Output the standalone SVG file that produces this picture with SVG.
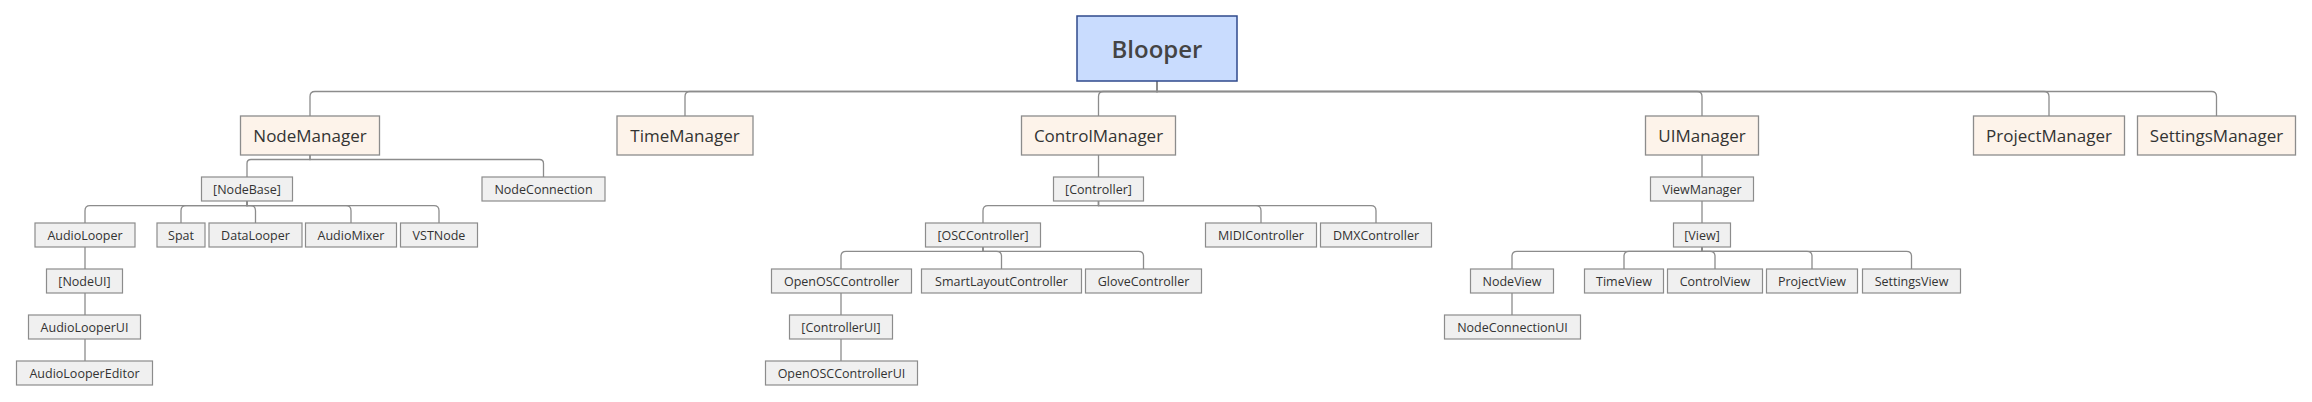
<svg xmlns="http://www.w3.org/2000/svg" width="2312" height="402" viewBox="0 0 2312 402">
<style>
.bg{fill:#ffffff}
.e{fill:none;stroke:#8c8c8c;stroke-width:1.3}
.root rect{fill:#c9dcfe;stroke:#2f4a8c;stroke-width:1.5}
.root text{font-family:"Open Sans","Liberation Sans",sans-serif;font-size:24px;font-weight:600;fill:#444;text-anchor:middle;dominant-baseline:central}
.mgr rect{fill:#fdf3ea;stroke:#8c8c8c;stroke-width:1.3}
.mgr text{font-family:"Open Sans","Liberation Sans",sans-serif;font-size:17px;fill:#333;text-anchor:middle;dominant-baseline:central}
.leaf rect{fill:#f0f0f0;stroke:#8c8c8c;stroke-width:1.2}
.leaf text{font-family:"Open Sans","Liberation Sans",sans-serif;font-size:12.5px;fill:#333;text-anchor:middle;dominant-baseline:central}
</style>
<rect class="bg" x="0" y="0" width="2312" height="402"/>
<g id="connectors">
<path class="e" d="M1157,81 V91.5 H315 Q310,91.5 310,96.5 V116"/>
<path class="e" d="M1157,81 V91.5 H690 Q685,91.5 685,96.5 V116"/>
<path class="e" d="M1157,81 V91.5 H1103.5 Q1098.5,91.5 1098.5,96.5 V116"/>
<path class="e" d="M1157,81 V91.5 H1697 Q1702,91.5 1702,96.5 V116"/>
<path class="e" d="M1157,81 V91.5 H2044 Q2049,91.5 2049,96.5 V116"/>
<path class="e" d="M1157,81 V91.5 H2211.5 Q2216.5,91.5 2216.5,96.5 V116"/>
<path class="e" d="M310,155 V159.5 H251 Q247,159.5 247,163.5 V177"/>
<path class="e" d="M310,155 V159.5 H539.5 Q543.5,159.5 543.5,163.5 V177"/>
<path class="e" d="M1098.5,155 V177"/>
<path class="e" d="M1702,155 V177"/>
<path class="e" d="M247,201 V205.7 H90 Q85,205.7 85,210.7 V223"/>
<path class="e" d="M247,201 V205.7 H186 Q181,205.7 181,210.7 V223"/>
<path class="e" d="M247,201 V205.7 H250.5 Q255.5,205.7 255.5,210.7 V223"/>
<path class="e" d="M247,201 V205.7 H346 Q351,205.7 351,210.7 V223"/>
<path class="e" d="M247,201 V205.7 H434 Q439,205.7 439,210.7 V223"/>
<path class="e" d="M1098.5,201 V205.7 H988 Q983,205.7 983,210.7 V223"/>
<path class="e" d="M1098.5,201 V205.7 H1256 Q1261,205.7 1261,210.7 V223"/>
<path class="e" d="M1098.5,201 V205.7 H1371 Q1376,205.7 1376,210.7 V223"/>
<path class="e" d="M1702,201 V223"/>
<path class="e" d="M85,247 V269"/>
<path class="e" d="M983,247 V251.3 H846 Q841,251.3 841,256.3 V269"/>
<path class="e" d="M983,247 V251.3 H996.5 Q1001.5,251.3 1001.5,256.3 V269"/>
<path class="e" d="M983,247 V251.3 H1138.5 Q1143.5,251.3 1143.5,256.3 V269"/>
<path class="e" d="M1702,247 V251.3 H1517 Q1512,251.3 1512,256.3 V269"/>
<path class="e" d="M1702,247 V251.3 H1629 Q1624,251.3 1624,256.3 V269"/>
<path class="e" d="M1702,247 V251.3 H1710 Q1715,251.3 1715,256.3 V269"/>
<path class="e" d="M1702,247 V251.3 H1807 Q1812,251.3 1812,256.3 V269"/>
<path class="e" d="M1702,247 V251.3 H1906.5 Q1911.5,251.3 1911.5,256.3 V269"/>
<path class="e" d="M85,293 V315"/>
<path class="e" d="M841,293 V315"/>
<path class="e" d="M1512,293 V315"/>
<path class="e" d="M85,339 V361"/>
<path class="e" d="M841,339 V361"/>
</g>
<g id="n-blooper" class="root"><rect x="1077" y="16" width="160" height="65"/><text x="1157" y="48.5">Blooper</text></g>
<g id="n-nodemanager" class="mgr"><rect x="240.5" y="116" width="139" height="39"/><text x="310" y="135.5">NodeManager</text></g>
<g id="n-timemanager" class="mgr"><rect x="617" y="116" width="136" height="39"/><text x="685" y="135.5">TimeManager</text></g>
<g id="n-controlmanager" class="mgr"><rect x="1021.5" y="116" width="154" height="39"/><text x="1098.5" y="135.5">ControlManager</text></g>
<g id="n-uimanager" class="mgr"><rect x="1645.5" y="116" width="113" height="39"/><text x="1702" y="135.5">UIManager</text></g>
<g id="n-projectmanager" class="mgr"><rect x="1973.5" y="116" width="151" height="39"/><text x="2049" y="135.5">ProjectManager</text></g>
<g id="n-settingsmanager" class="mgr"><rect x="2137.5" y="116" width="158" height="39"/><text x="2216.5" y="135.5">SettingsManager</text></g>
<g id="n-nodebase" class="leaf"><rect x="201.5" y="177" width="91" height="24"/><text x="247" y="189">[NodeBase]</text></g>
<g id="n-nodeconnection" class="leaf"><rect x="482" y="177" width="123" height="24"/><text x="543.5" y="189">NodeConnection</text></g>
<g id="n-controller" class="leaf"><rect x="1053.5" y="177" width="90" height="24"/><text x="1098.5" y="189">[Controller]</text></g>
<g id="n-viewmanager" class="leaf"><rect x="1650.5" y="177" width="103" height="24"/><text x="1702" y="189">ViewManager</text></g>
<g id="n-audiolooper" class="leaf"><rect x="35" y="223" width="100" height="24"/><text x="85" y="235">AudioLooper</text></g>
<g id="n-spat" class="leaf"><rect x="157" y="223" width="48" height="24"/><text x="181" y="235">Spat</text></g>
<g id="n-datalooper" class="leaf"><rect x="209" y="223" width="93" height="24"/><text x="255.5" y="235">DataLooper</text></g>
<g id="n-audiomixer" class="leaf"><rect x="305.5" y="223" width="91" height="24"/><text x="351" y="235">AudioMixer</text></g>
<g id="n-vstnode" class="leaf"><rect x="400.5" y="223" width="77" height="24"/><text x="439" y="235">VSTNode</text></g>
<g id="n-osccontroller" class="leaf"><rect x="925.5" y="223" width="115" height="24"/><text x="983" y="235">[OSCController]</text></g>
<g id="n-midicontroller" class="leaf"><rect x="1205.5" y="223" width="111" height="24"/><text x="1261" y="235">MIDIController</text></g>
<g id="n-dmxcontroller" class="leaf"><rect x="1320.5" y="223" width="111" height="24"/><text x="1376" y="235">DMXController</text></g>
<g id="n-view" class="leaf"><rect x="1673.5" y="223" width="57" height="24"/><text x="1702" y="235">[View]</text></g>
<g id="n-nodeui" class="leaf"><rect x="46.5" y="269" width="76" height="24"/><text x="84.5" y="281">[NodeUI]</text></g>
<g id="n-openosccontroller" class="leaf"><rect x="771.5" y="269" width="140" height="24"/><text x="841.5" y="281">OpenOSCController</text></g>
<g id="n-smartlayoutcontroller" class="leaf"><rect x="921.5" y="269" width="160" height="24"/><text x="1001.5" y="281">SmartLayoutController</text></g>
<g id="n-glovecontroller" class="leaf"><rect x="1085.5" y="269" width="116" height="24"/><text x="1143.5" y="281">GloveController</text></g>
<g id="n-nodeview" class="leaf"><rect x="1470.5" y="269" width="83" height="24"/><text x="1512" y="281">NodeView</text></g>
<g id="n-timeview" class="leaf"><rect x="1584.5" y="269" width="79" height="24"/><text x="1624" y="281">TimeView</text></g>
<g id="n-controlview" class="leaf"><rect x="1667.5" y="269" width="95" height="24"/><text x="1715" y="281">ControlView</text></g>
<g id="n-projectview" class="leaf"><rect x="1766.5" y="269" width="91" height="24"/><text x="1812" y="281">ProjectView</text></g>
<g id="n-settingsview" class="leaf"><rect x="1862.5" y="269" width="98" height="24"/><text x="1911.5" y="281">SettingsView</text></g>
<g id="n-audiolooperui" class="leaf"><rect x="28.5" y="315" width="112" height="24"/><text x="84.5" y="327">AudioLooperUI</text></g>
<g id="n-controllerui" class="leaf"><rect x="789.5" y="315" width="103" height="24"/><text x="841" y="327">[ControllerUI]</text></g>
<g id="n-nodeconnectionui" class="leaf"><rect x="1444.5" y="315" width="136" height="24"/><text x="1512.5" y="327">NodeConnectionUI</text></g>
<g id="n-audiolooperEditor" class="leaf"><rect x="16.5" y="361" width="136" height="24"/><text x="84.5" y="373">AudioLooperEditor</text></g>
<g id="n-openosccontrollerui" class="leaf"><rect x="765.5" y="361" width="152" height="24"/><text x="841.5" y="373">OpenOSCControllerUI</text></g>
</svg>
